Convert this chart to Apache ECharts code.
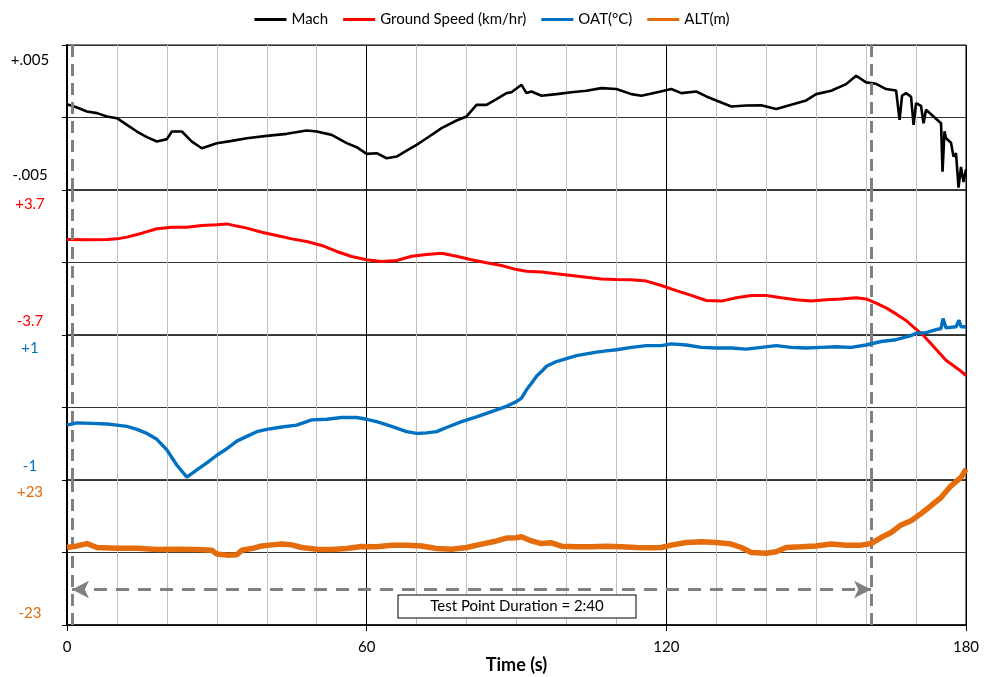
<!DOCTYPE html>
<html>
<head>
<meta charset="utf-8">
<script src="https://cdn.jsdelivr.net/npm/echarts@6/dist/echarts.min.js"></script>
<style>html,body{margin:0;padding:0;background:#fff}#c{width:984px;height:677px}</style>
</head>
<body>
<div id="c"></div>
<script>
// ---- data (time in s, deviations) ----
const seriesNames = ['Mach', 'Ground Speed (km/hr)', 'OAT(\u00B0C)', 'ALT(m)'];
const xTickLabels = ['0', '60', '120', '180'];
const machLabels = ['+.005', '-.005'];
const gsLabels = ['+3.7', '-3.7'];
const oatLabels = ['+1', '-1'];
const altLabels = ['+23', '-23'];
const annotationText = 'Test Point Duration = 2:40';
const testStart = 1, testEnd = 161;

const machT = [0,2,4,6,8,10,12,14,16,18,20,21,23,25,27,30,33,36,40,44,48,50,53,56,58,60,62,64,66,68,70,72,75,78,80,82,84,86,88,89,91,92,93,95,98,101,104,107,110,113,115,118,121,123,126,128,130,133,136,139,142,145,148,150,153,156,158,160,162,164,166,166.7,167.2,168,169,169.5,170,171,171.5,172,173.5,175,175.3,175.7,176,177,177.5,178,178.5,179,179.5,180];
const machV = [0.00116,0.00087,0.00052,0.00038,0.00009,-0.00006,-0.00064,-0.00122,-0.00171,-0.00209,-0.00188,-0.00122,-0.00122,-0.00209,-0.00267,-0.00223,-0.00203,-0.0018,-0.0016,-0.00142,-0.00113,-0.00122,-0.00151,-0.00223,-0.00258,-0.00316,-0.0031,-0.00354,-0.00339,-0.00287,-0.00238,-0.0018,-0.00093,-0.00026,0.00009,0.0011,0.0011,0.0016,0.00212,0.0022,0.00284,0.00212,0.00226,0.00189,0.00203,0.0022,0.00232,0.00255,0.00247,0.00203,0.00189,0.00218,0.00247,0.00212,0.00226,0.00183,0.00148,0.00096,0.00104,0.00107,0.00073,0.0011,0.00148,0.00203,0.00232,0.0029,0.00363,0.00305,0.00293,0.00247,0.00235,-0.0002,0.0019,0.00212,0.0018,-0.00064,0.00125,0.001,-0.0005,0.00067,0.00009,-0.0005,-0.0047,-0.0012,-0.0018,-0.0022,-0.0034,-0.0031,-0.0061,-0.0043,-0.0056,-0.0045];

const gsT = [0,4,8,10,12,15,18,21,24,27,30,32,34,36,39,42,45,48,51,54,57,60,63,66,69,72,75,78,81,84,87,90,92,95,98,101,104,107,110,113,116,119,122,125,128,131,134,137,140,143,146,149,152,155,158,160,162,164,166,168,169.5,171.5,176,178.8,180];
const gsV = [1.46,1.44,1.46,1.5,1.61,1.86,2.14,2.24,2.24,2.35,2.39,2.45,2.31,2.18,1.92,1.71,1.5,1.33,1.08,0.7,0.38,0.17,0.06,0.13,0.4,0.51,0.59,0.4,0.17,-0.02,-0.19,-0.45,-0.55,-0.61,-0.72,-0.82,-0.93,-1.04,-1.08,-1.1,-1.18,-1.46,-1.78,-2.09,-2.41,-2.45,-2.24,-2.09,-2.09,-2.24,-2.37,-2.45,-2.37,-2.31,-2.24,-2.31,-2.58,-2.88,-3.26,-3.68,-4.1,-4.63,-6.2,-6.85,-7.17];

const oatT = [0,2,5,8,10,12,14,16,18,20,22,24,26,28,30,32,34,36,38,40,43,46,49,52,55,58,60,62,65,68,70,72,74,76,79,82,85,88,90,91,92,93,94,95,96,98,100,102,104,106,108,110,113,116,119,121,124,127,130,133,136,139,142,145,148,151,154,157,160,163,166,169,170,172,174,175,175.4,176,178,178.6,179,180];
const oatV = [-0.3,-0.26,-0.27,-0.28,-0.3,-0.32,-0.37,-0.44,-0.54,-0.72,-0.98,-1.18,-1.06,-0.94,-0.81,-0.7,-0.57,-0.49,-0.41,-0.37,-0.33,-0.3,-0.21,-0.2,-0.17,-0.17,-0.2,-0.24,-0.32,-0.41,-0.44,-0.43,-0.41,-0.34,-0.24,-0.16,-0.07,0.02,0.1,0.16,0.3,0.41,0.53,0.61,0.7,0.78,0.83,0.88,0.91,0.94,0.96,0.98,1.02,1.05,1.05,1.08,1.06,1.02,1.01,1.01,0.99,1.02,1.05,1.02,1.01,1.02,1.03,1.02,1.06,1.12,1.15,1.22,1.26,1.27,1.32,1.34,1.51,1.35,1.37,1.48,1.37,1.37];

const altT = [0,2,4,6,10,14,18,22,26,29,30,32,34,35,37,39,41,43,45,47,50,53,56,59,62,65,68,71,74,77,80,83,86,88,90,91,93,95,97,99,102,105,108,111,114,117,119,121,124,127,130,133,135,137,140,142,144,147,150,153,156,159,161,163,165,167,169,171,173,175,177,179,180];
const altV = [1.9,2.5,3.4,1.9,1.65,1.65,1.14,1.27,1.14,0.9,-0.6,-1.0,-0.9,0.9,1.5,2.5,2.9,3.2,2.9,1.9,1.27,1.14,1.5,2.3,2.15,2.8,2.8,2.5,1.5,1.27,1.9,3.2,4.4,5.5,5.6,6.0,4.4,3.4,3.7,2.4,2.15,2.15,2.4,2.15,1.9,1.8,1.9,2.8,3.8,4.1,3.8,3.2,1.9,0.0,-0.25,0.25,1.9,2.15,2.5,3.2,2.8,2.8,3.4,5.7,7.6,10.5,12.1,14.8,17.8,20.9,25.4,28.6,31.7];

// ---- layout / styles ----
const FONT = 'Lato, "Liberation Sans", sans-serif';
const colors = ['#000000', '#FF0000', '#0070C0', '#E46C0A'];
const widths = [2.6, 3, 3.4, 5.5];
const ranges = [0.0063, 4.6, 1.23, 27.6];
const labelSets = [machLabels, gsLabels, oatLabels, altLabels];
const labelVals = [[0.005, -0.005], [3.7, -3.7], [1, -1], [23, -23]];
const tArr = [machT, gsT, oatT, altT];
const vArr = [machV, gsV, oatV, altV];

const grids = [], xAxes = [], yAxes = [], series = [];
for (let i = 0; i < 4; i++) {
  grids.push({ left: 67, width: 899, top: 45 + 145 * i, height: 145, show: true, borderColor: '#000', borderWidth: 1, backgroundColor: 'transparent' });
  const bottom = i === 3;
  xAxes.push({
    type: 'value', gridIndex: i, min: 0, max: 180, interval: 60,
    axisLine: { show: bottom, onZero: false, lineStyle: { color: '#000', width: 1.5 } },
    axisTick: { show: bottom, length: 6, lineStyle: { color: '#000' } },
    axisLabel: { show: bottom, margin: 15, color: '#000', fontSize: 15, fontFamily: FONT,
      formatter: v => xTickLabels[Math.round(v / 60)] },
    splitLine: { show: true, lineStyle: { color: '#000', width: 1 } },
    minorTick: { show: false, splitNumber: 6 },
    minorSplitLine: { show: true, lineStyle: { color: '#BFBFBF', width: 1 } },
    name: bottom ? 'Time (s)' : '', nameLocation: 'middle', nameGap: 31,
    nameTextStyle: { fontSize: 18, fontWeight: 'bold', color: '#000', fontFamily: FONT }
  });
  const r = ranges[i], labs = labelSets[i];
  yAxes.push({
    type: 'value', gridIndex: i, min: -r, max: r, interval: r,
    axisLine: { show: true, onZero: false, lineStyle: { color: '#000', width: 2 } },
    axisTick: { show: true, length: 5, lineStyle: { color: '#000' } },
    axisLabel: { show: true, customValues: labelVals[i], align: 'center', margin: 37,
      color: colors[i], fontSize: 15, fontFamily: FONT,
      formatter: v => (v > 0 ? labs[0] : labs[1]) },
    splitLine: { show: true, lineStyle: { color: '#333', width: 1 } }
  });
  const s = {
    name: seriesNames[i], type: 'line', xAxisIndex: i, yAxisIndex: i,
    data: tArr[i].map((t, k) => [t, vArr[i][k]]),
    symbol: 'none', clip: false, z: 3 + i,
    lineStyle: { color: colors[i], width: widths[i] }, itemStyle: { color: colors[i] },
    markLine: {
      silent: true, symbol: 'none', label: { show: false }, animation: false,
      lineStyle: { color: '#808080', width: 3, type: [12, 7] },
      data: [{ xAxis: testStart }, { xAxis: testEnd }]
    }
  };
  if (i === 3) {
    s.markLine.data.push([
      { coord: [testStart, -14.1], symbol: 'arrow', symbolSize: [13, 17], lineStyle: { color: '#808080', width: 3, type: [13, 9] } },
      { coord: [testEnd, -14.1], symbol: 'arrow', symbolSize: [13, 17] }
    ]);
    s.markPoint = {
      silent: true, animation: false,
      data: [{ coord: [90.1, -20.6], symbol: 'circle', symbolSize: 0,
        itemStyle: { color: 'transparent' },
        label: { show: true, position: 'inside', formatter: annotationText, color: '#000', fontSize: 15, fontFamily: FONT,
          backgroundColor: '#fff', borderColor: '#000', borderWidth: 1, width: 229, align: 'center',
          padding: [4, 4, 3, 4] } }]
    };
  }
  series.push(s);
}

const chart = echarts.init(document.getElementById('c'), null, { renderer: 'canvas' });
chart.setOption({
  animation: false,
  backgroundColor: '#fff',
  legend: {
    top: 7, left: 'center', itemWidth: 32, itemHeight: 3, itemGap: 15, icon: 'rect',
    textStyle: { fontSize: 15, color: '#000', fontFamily: FONT },
    data: seriesNames
  },
  grid: grids, xAxis: xAxes, yAxis: yAxes, series: series
});
</script>
</body>
</html>
